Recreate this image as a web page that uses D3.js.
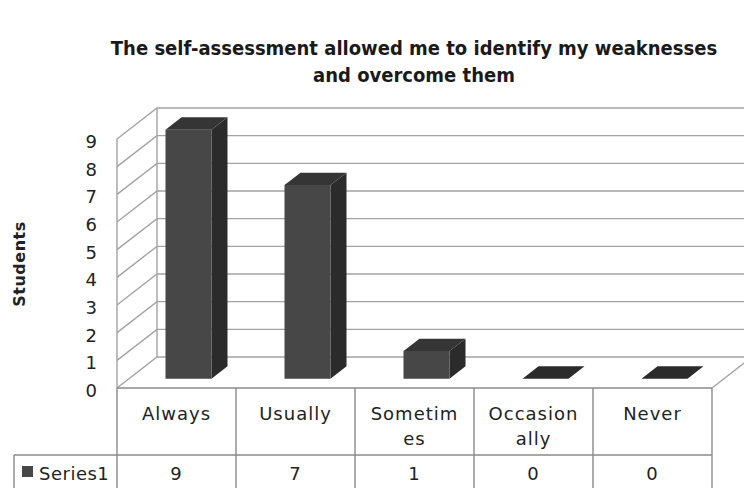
<!DOCTYPE html>
<html>
<head>
<meta charset="utf-8">
<script src="https://cdn.jsdelivr.net/npm/d3@7"></script>
<style>
  body { margin: 0; background: #fff; }
  svg { display: block; }
</style>
</head>
<body>
<div id="chart"></div>
<script>
// chart data
var titleLines = ["The self-assessment allowed me to identify my weaknesses", "and overcome them"];
var categories = ["Always", "Usually", "Sometimes", "Occasionally", "Never"];
var headerLines = [["Always"], ["Usually"], ["Sometim", "es"], ["Occasion", "ally"], ["Never"]];
var seriesName = "Series1";
var values = [9, 7, 1, 0, 0];
var yTicks = [0, 1, 2, 3, 4, 5, 6, 7, 8, 9];
var yTitle = "Students";

var width = 744, height = 488;
var svg = d3.select("#chart").append("svg")
    .attr("width", width)
    .attr("height", height)
    .attr("font-family", "'DejaVu Sans', sans-serif");

// front plane of the 3d box
var x = d3.scaleBand().domain(categories).range([117, 712]);
var y = d3.scaleLinear().domain([0, 9]).range([388, 139]);
var depthX = 40, depthY = -31;
function off(z) { return [depthX * z, depthY * z]; }

var gridColor = "#a3a3a3";
var lineColor = "#8a8a8a";

// title
svg.append("g").selectAll("text")
    .data(titleLines)
    .enter().append("text")
    .attr("x", 414)
    .attr("y", (d, i) => 55 + i * 27)
    .attr("text-anchor", "middle")
    .attr("font-family", "'Liberation Sans Narrow', 'DejaVu Sans Condensed', sans-serif")
    .attr("font-weight", "bold")
    .attr("font-size", 20)
    .attr("fill", "#1a1a1a")
    .text(d => d);

// walls and gridlines
var x0 = x.range()[0], x1 = x.range()[1];
var walls = svg.append("g").attr("fill", "none").attr("stroke", gridColor).attr("stroke-width", 1.4);
walls.selectAll("path.grid")
    .data(yTicks)
    .enter().append("path")
    .attr("class", "grid")
    .attr("d", d => {
        var b = off(1);
        return "M" + x0 + "," + y(d) + "L" + (x0 + b[0]) + "," + (y(d) + b[1]) + "L" + (x1 + b[0] + 10) + "," + (y(d) + b[1]);
    });
walls.append("line")
    .attr("x1", x0 + depthX).attr("x2", x0 + depthX)
    .attr("y1", y(9) + depthY).attr("y2", y(0) + depthY);
walls.append("line")
    .attr("x1", x0).attr("x2", x0)
    .attr("y1", y(9)).attr("y2", y(0));
// floor right edge
walls.append("line")
    .attr("x1", x1).attr("y1", y(0))
    .attr("x2", x1 + depthX).attr("y2", y(0) + depthY);

// y tick labels
svg.append("g").selectAll("text")
    .data(yTicks)
    .enter().append("text")
    .attr("x", 97)
    .attr("y", d => y(d) + 9)
    .attr("text-anchor", "end")
    .attr("font-size", 18)
    .attr("fill", "#222")
    .text(d => d);

// y title
svg.append("text")
    .attr("transform", "translate(25,264) rotate(-90)")
    .attr("text-anchor", "middle")
    .attr("font-weight", "bold")
    .attr("font-size", 16)
    .attr("letter-spacing", 0.5)
    .attr("fill", "#222")
    .text(yTitle);

// bars
var barW = 46, zFront = 0.3, zBack = 0.7;
var bars = svg.append("g").selectAll("g")
    .data(values)
    .enter().append("g");
function barGeom(d, i) {
    var cx = x(categories[i]) + x.bandwidth() / 2;
    var f = off(zFront), b = off(zBack);
    var l = cx - barW / 2, r = cx + barW / 2;
    return {
        fl: l + f[0], fr: r + f[0], fb: y(0) + f[1], ft: y(d) + f[1],
        bl: l + b[0], br: r + b[0], bb: y(0) + b[1], bt: y(d) + b[1]
    };
}
bars.append("path") // side
    .attr("fill", "#2b2b2b")
    .attr("d", (d, i) => {
        var g = barGeom(d, i);
        return "M" + g.fr + "," + g.ft + "L" + g.br + "," + g.bt + "L" + g.br + "," + g.bb + "L" + g.fr + "," + g.fb + "Z";
    });
bars.append("path") // front
    .attr("fill", "#474747")
    .attr("d", (d, i) => {
        var g = barGeom(d, i);
        return "M" + g.fl + "," + g.ft + "L" + g.fr + "," + g.ft + "L" + g.fr + "," + g.fb + "L" + g.fl + "," + g.fb + "Z";
    });
bars.append("path") // top
    .attr("fill", d => d === 0 ? "#2b2b2b" : "#353535")
    .attr("d", (d, i) => {
        var g = barGeom(d, i);
        return "M" + g.fl + "," + g.ft + "L" + g.bl + "," + g.bt + "L" + g.br + "," + g.bt + "L" + g.fr + "," + g.ft + "Z";
    });

// data table
var rowTop = y(0), rowMid = 455, rowBot = 500, legLeft = 14;
var table = svg.append("g").attr("stroke", lineColor).attr("stroke-width", 1.4).attr("fill", "none");
table.append("line").attr("x1", x0).attr("x2", x1).attr("y1", rowTop).attr("y2", rowTop);
table.append("line").attr("x1", legLeft).attr("x2", x1).attr("y1", rowMid).attr("y2", rowMid);
table.append("line").attr("x1", legLeft).attr("x2", legLeft).attr("y1", rowMid).attr("y2", rowBot);
table.selectAll("line.col")
    .data(categories.map(c => x(c)).concat([x1]))
    .enter().append("line")
    .attr("class", "col")
    .attr("x1", d => d).attr("x2", d => d)
    .attr("y1", rowTop).attr("y2", rowBot);

var textG = svg.append("g")
    .attr("font-size", 18)
    .attr("letter-spacing", 1)
    .attr("fill", "#222")
    .attr("text-anchor", "middle");
categories.forEach((c, i) => {
    var cx = x(c) + x.bandwidth() / 2;
    textG.append("text")
        .attr("x", cx)
        .attr("y", 420)
        .selectAll("tspan")
        .data(headerLines[i])
        .enter().append("tspan")
        .attr("x", cx)
        .attr("dy", (d, j) => j === 0 ? 0 : 25)
        .text(d => d);
    textG.append("text")
        .attr("x", cx)
        .attr("y", 480)
        .text(values[i]);
});
svg.append("rect")
    .attr("x", 22).attr("y", 466)
    .attr("width", 11).attr("height", 11)
    .attr("fill", "#474747");
svg.append("text")
    .attr("x", 39).attr("y", 480)
    .attr("font-size", 18)
    .attr("letter-spacing", 0.5)
    .attr("fill", "#222")
    .text(seriesName);
</script>
</body>
</html>
